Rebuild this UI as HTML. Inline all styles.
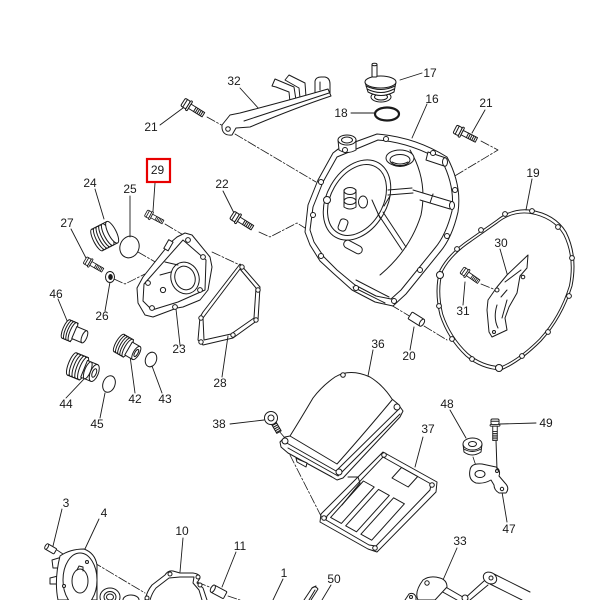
<!DOCTYPE html>
<html><head><meta charset="utf-8">
<style>
html,body{margin:0;padding:0;background:#fff;}
svg{display:block}
text{font-family:"Liberation Sans",sans-serif;font-size:12px;fill:#1a1a1a;text-anchor:middle}
</style></head><body>
<svg width="600" height="600" viewBox="0 0 600 600" xmlns="http://www.w3.org/2000/svg">
<defs>
<g id="bolt">
  <rect x="0" y="-4.5" width="6" height="9" rx="1.5"/>
  <line x1="2.5" y1="-4.5" x2="2.5" y2="4.5"/>
  <rect x="6" y="-5.5" width="2" height="11" rx="1"/>
  <rect x="8" y="-2.5" width="16" height="5"/>
  <path d="M14,-2.5v5M16,-2.5v5M18,-2.5v5M20,-2.5v5M22,-2.5v5" fill="none"/>
</g>
</defs>
<rect width="600" height="600" fill="#fff"/>
<g fill="#fff" stroke="#1a1a1a" stroke-width="1" stroke-linejoin="round" stroke-linecap="round">

<!-- dashed connector lines -->
<g fill="none" stroke-width="0.8" stroke-dasharray="9,2,2,2">
<path d="M207,117 L225,127"/>
<path d="M235,134 L316,182"/>
<path d="M259,232 L270,237 L297,223 L305,228"/>
<path d="M481,141 L498,150 L423,195"/>
<path d="M165,224 L185,236"/>
<path d="M138,252 L157,263"/>
<path d="M114,279 L125,284 L145,274"/>
<path d="M212,252 L242,266"/>
<path d="M391,305 L411,317"/>
<path d="M424,326 L447,340"/>
<path d="M481,284 L496,290"/>
<path d="M290,455 L322,518"/>
<path d="M279,431 L285,438"/>
<path d="M473,457 L477,469"/>
<path d="M57,550 L66,556"/>
<path d="M93,562 L145,593"/>
<path d="M197,582 L212,588"/>
<path d="M228,596 L240,600"/>
</g>

<!-- leader lines -->
<g fill="none" stroke-width="0.9">
<path d="M240,88 L260,110"/>
<path d="M400,80 L422,73"/>
<path d="M427,104 L412,138"/>
<path d="M351,113 L374,113"/>
<path d="M160,125 L183,108"/>
<path d="M485,110 L472,133"/>
<path d="M223,191 L234,213"/>
<path d="M155,183 L153,211"/>
<path d="M95,189 L104,219"/>
<path d="M130,196 L130,237"/>
<path d="M71,229 L86,258"/>
<path d="M105,311 L110,282"/>
<path d="M180,345 L176,309"/>
<path d="M222,377 L228,336"/>
<path d="M58,299 L68,323"/>
<path d="M66,398 L84,379"/>
<path d="M100,418 L105,393"/>
<path d="M135,393 L130,356"/>
<path d="M162,393 L152,366"/>
<path d="M230,424 L264,420"/>
<path d="M373,350 L368,376"/>
<path d="M410,350 L414,327"/>
<path d="M423,437 L415,467"/>
<path d="M450,410 L466,438"/>
<path d="M536,423 L500,424"/>
<path d="M507,522 L502,492"/>
<path d="M457,548 L443,580"/>
<path d="M532,179 L526,210"/>
<path d="M500,249 L508,277"/>
<path d="M463,305 L465,282"/>
<path d="M62,509 L53,546"/>
<path d="M99,519 L84,551"/>
<path d="M183,538 L180,572"/>
<path d="M236,552 L222,587"/>
<path d="M283,579 L273,600"/>
<path d="M331,585 L322,600"/>
</g>

<!-- 32 bracket -->
<path d="M272,86 L275,79 L294,87 L296,100 L290,102 L289,92 L276,87 Z"/>
<path d="M285,80 L289,75 L305,83 L306,97 L300,98 L299,88 Z"/>
<path d="M315,93 L315,81 Q316,77 321,77 L325,77 Q330,78 330,84 L330,93 Z"/>
<path d="M320,90 L320,82" fill="none"/>
<path d="M222,125 L230,115 L240,113 Q290,100 328,89 L331,96 Q295,108 250,127 L236,128 L232,135 Q223,136 222,128 Z"/>
<path d="M244,121 Q290,106 329,93" fill="none"/>
<circle cx="228" cy="129" r="2.3"/>

<!-- 21 left, 21 right bolts -->
<use href="#bolt" transform="translate(183,102) rotate(32)"/>
<use href="#bolt" transform="translate(455,129) rotate(27)"/>

<!-- 17 cap -->
<ellipse cx="381" cy="97" rx="10" ry="5"/>
<ellipse cx="381" cy="97" rx="6.5" ry="3"/>
<path d="M365,82 L368,92 Q381,99 394,92 L396,82 Z"/>
<path d="M366,86 Q381,93 395,86 M367,89 Q381,96 394,89" fill="none"/>
<ellipse cx="380.5" cy="82" rx="15.5" ry="6"/>
<rect x="372" y="64" width="5" height="13" rx="1"/>
<ellipse cx="374.5" cy="64.5" rx="2.5" ry="1.2"/>

<!-- 18 o-ring -->
<ellipse cx="387" cy="114" rx="12" ry="6.5" fill="none" stroke-width="2.2"/>

<!-- 16 cover -->
<path d="M318,180 L333,153 Q342,145 355,142 L377,134 Q415,137 447,157 Q462,185 458,212 Q452,238 440,252 L406,294 L393,306 L375,302 L352,290 L333,273 L320,261 L310,245 L305,232 L308,205 Z"/>
<path d="M323,182 L337,157 L378,140 Q412,143 442,161 Q455,186 452,211 Q446,235 435,248 L401,290 L391,299 L376,296 L355,285 L337,270 L324,257 L314,242 L310,230 L313,207 Z" fill="none"/>
<path d="M410,150 Q428,180 421,215 Q410,250 380,275" fill="none"/>
<ellipse cx="357" cy="200" rx="30" ry="43" transform="rotate(30 357 200)" fill="none"/>
<ellipse cx="357" cy="200" rx="26" ry="38" transform="rotate(30 357 200)" fill="none"/>
<path d="M338,140 L339,150 Q347,155 356,150 L356,140"/>
<ellipse cx="347" cy="140" rx="9" ry="5"/>
<ellipse cx="347" cy="140" rx="5.5" ry="3"/>
<ellipse cx="400" cy="158" rx="14" ry="8"/>
<ellipse cx="400" cy="160" rx="10" ry="5.5"/>
<path d="M392,162 Q400,166 408,162 M393,165 Q400,168 407,165" fill="none"/>
<path d="M428,152 L446,158 L444,166 L426,160 Z"/>
<ellipse cx="445" cy="162" rx="2.5" ry="4.2"/>
<path d="M413,190 L453,202 L450,209 L420,200" />
<ellipse cx="452" cy="205.5" rx="2.5" ry="4"/>
<path d="M433,194 L430,203" fill="none"/>
<path d="M378,214 L402,250 M383,212 L406,247" fill="none"/>
<path d="M388,190 L412,188 M388,195 L413,193" fill="none"/>
<rect x="-10" y="-4" width="20" height="8" rx="4" transform="translate(353,247) rotate(28)"/>
<path d="M344,190 L344,207 Q350,211 356,207 L356,190"/>
<ellipse cx="350" cy="201" rx="6" ry="3.5"/>
<ellipse cx="350" cy="191" rx="6" ry="3.5"/>
<ellipse cx="363" cy="202" rx="4.5" ry="6"/>
<circle cx="327" cy="200" r="3.5"/>
<rect x="-4" y="-6" width="8" height="12" rx="3" transform="translate(343,225) rotate(20)"/>
<path d="M380,218 L372,200 M384,206 L390,196" fill="none"/>
<path d="M356,280 L389,297 M353,287 L385,303" fill="none"/>
<circle cx="345" cy="150" r="2.5"/><circle cx="386" cy="139" r="2.5"/><circle cx="433" cy="153" r="2.5"/>
<circle cx="455" cy="190" r="2.5"/><circle cx="447" cy="236" r="2.5"/><circle cx="420" cy="270" r="2.5"/>
<circle cx="394" cy="301" r="2.5"/><circle cx="356" cy="288" r="2.5"/><circle cx="321" cy="256" r="2.5"/>
<circle cx="313" cy="215" r="2.5"/><circle cx="321" cy="182" r="2.5"/>

<!-- 22 bolt -->
<use href="#bolt" transform="translate(232,215) rotate(32)"/>

<!-- 19 gasket -->
<path d="M497,220 Q512,208 530,210 Q555,214 566,232 Q578,256 572,286 Q562,318 541,341 Q520,362 501,370 Q481,369 466,356 Q448,339 440,315 Q434,290 440,270 Q449,253 470,239 Z" fill="none"/>
<path d="M497,220 Q512,208 530,210 Q555,214 566,232 Q578,256 572,286 Q562,318 541,341 Q520,362 501,370 Q481,369 466,356 Q448,339 440,315 Q434,290 440,270 Q449,253 470,239 Z" transform="translate(506,290) scale(0.96) translate(-506,-290)" fill="none"/>
<g>
<circle cx="505" cy="214" r="2.4"/><circle cx="532" cy="211" r="2.4"/><circle cx="558" cy="227" r="2.4"/>
<circle cx="572" cy="258" r="2.4"/><circle cx="569" cy="296" r="2.4"/><circle cx="548" cy="332" r="2.4"/>
<circle cx="522" cy="356" r="2.4"/><circle cx="499" cy="368" r="3.5"/><circle cx="472" cy="359" r="2.4"/>
<circle cx="452" cy="339" r="2.4"/><circle cx="439" cy="306" r="2.4"/><circle cx="440" cy="275" r="3.5"/>
<circle cx="457" cy="249" r="2.4"/><circle cx="481" cy="230" r="2.4"/>
</g>

<!-- 30 plate -->
<path d="M528,255 L527,268 L520,276 L517,293 L509,307 L505,318 L507,330 L492,337 L489,332 L487,310 L488,300 L497,287 L507,275 Z"/>
<circle cx="497" cy="290" r="2"/>
<circle cx="523" cy="277" r="1.8"/>
<path d="M505,282 L521,270 M497,305 Q493,318 498,328 M501,297 L507,290 M507,300 L502,318" fill="none"/>
<circle cx="494" cy="332" r="1.5"/>

<!-- 31 bolt -->
<use href="#bolt" transform="translate(462,270) rotate(35) scale(0.85)"/>

<!-- 20 dowel -->
<g transform="translate(416,319) rotate(32)"><rect x="-7" y="-4" width="14" height="8" rx="1"/><ellipse cx="7" cy="0" rx="2" ry="4"/></g>

<!-- 23 cover plate -->
<path d="M177,237 L185,233 L192,235 L210,257 L212,267 L208,290 L200,300 L183,307 L177,308 L153,317 L145,315 L138,303 L137,288 L143,277 L170,243 Z"/>
<path d="M183,240 L206,260 L205,290 L178,302 L152,310 L143,301 L144,284 Z" fill="none"/>
<rect x="166" y="240" width="5" height="10" transform="rotate(30 168 245)"/>
<ellipse cx="185" cy="278" rx="14" ry="16" transform="rotate(-20 185 278)"/>
<ellipse cx="185" cy="278" rx="10" ry="12" transform="rotate(-20 185 278)"/>
<path d="M160,275 L171,272 M165,262 L178,265" fill="none"/>
<circle cx="188" cy="240" r="2.4"/><circle cx="203" cy="257" r="2.4"/><circle cx="200" cy="290" r="2.4"/>
<circle cx="175" cy="307" r="2.4"/><circle cx="152" cy="308" r="2.4"/><circle cx="148" cy="283" r="2.4"/>
<circle cx="163" cy="290" r="2.6"/>

<!-- 28 gasket -->
<path d="M240,264 L260,287 L258,320 L233,338 L203,345 L198,340 L200,317 L203,312 Z" fill="none"/>
<path d="M240,269 L256,288 L254,318 L231,334 L204,340 L203,318 L206,314 Z" fill="none"/>
<circle cx="242" cy="267" r="2.2"/><circle cx="258" cy="290" r="2.2"/><circle cx="256" cy="320" r="2.2"/>
<circle cx="233" cy="335" r="2.2"/><circle cx="201" cy="342" r="2.2"/><circle cx="201" cy="318" r="2.2"/>

<!-- 29 bolt -->
<use href="#bolt" transform="translate(146,213) rotate(28) scale(0.8)"/>
<rect x="147" y="159" width="23" height="23" fill="none" stroke="#e80000" stroke-width="2.2" stroke-linejoin="miter"/>

<!-- 24 plug -->
<g transform="translate(97,240) rotate(-27)">
<rect x="0" y="-12" width="17" height="24"/>
<ellipse cx="0" cy="0" rx="3.5" ry="12"/><ellipse cx="3" cy="0" rx="3.5" ry="12"/><ellipse cx="6" cy="0" rx="3.5" ry="12"/>
<ellipse cx="9" cy="0" rx="3.5" ry="12"/><ellipse cx="12" cy="0" rx="3.5" ry="12"/><ellipse cx="17" cy="0" rx="4" ry="12"/>
</g>
<!-- 25 o-ring -->
<ellipse cx="129.5" cy="247" rx="9.5" ry="11" transform="rotate(20 129.5 247)" fill="none"/>
<!-- 27 bolt -->
<use href="#bolt" transform="translate(85,260) rotate(30) scale(0.85)"/>
<!-- 26 washer -->
<ellipse cx="110" cy="277" rx="4.5" ry="5.5"/>
<ellipse cx="110.5" cy="277" rx="1.8" ry="2.5" fill="#1a1a1a"/>

<!-- 46 -->
<g transform="translate(66,329) rotate(23)">
<rect x="0" y="-10" width="9" height="20"/>
<ellipse cx="0" cy="0" rx="3" ry="10"/><ellipse cx="2.5" cy="0" rx="3" ry="10"/><ellipse cx="5" cy="0" rx="3" ry="10"/><ellipse cx="7.5" cy="0" rx="3" ry="10"/>
<rect x="9" y="-6.5" width="11" height="13"/>
<ellipse cx="20" cy="0" rx="2.5" ry="6.5"/>
</g>
<!-- 44 -->
<g transform="translate(72,364) rotate(22)">
<rect x="0" y="-12" width="13" height="24"/>
<ellipse cx="0" cy="0" rx="3.5" ry="12"/><ellipse cx="3" cy="0" rx="3.5" ry="12"/><ellipse cx="6" cy="0" rx="3.5" ry="12"/><ellipse cx="9" cy="0" rx="3.5" ry="12"/><ellipse cx="12" cy="0" rx="3.5" ry="12"/>
<rect x="13" y="-9" width="11" height="18"/>
<ellipse cx="17" cy="0" rx="3" ry="9"/>
<ellipse cx="24" cy="0" rx="4" ry="9"/>
<ellipse cx="24" cy="0" rx="2" ry="4.5"/>
</g>
<!-- 45 o-ring -->
<ellipse cx="109" cy="384" rx="6" ry="8.5" transform="rotate(20 109 384)" fill="none"/>
<!-- 42 -->
<g transform="translate(119,343) rotate(30)">
<rect x="0" y="-10" width="11" height="20"/>
<ellipse cx="0" cy="0" rx="3" ry="10"/><ellipse cx="2.5" cy="0" rx="3" ry="10"/><ellipse cx="5" cy="0" rx="3" ry="10"/><ellipse cx="7.5" cy="0" rx="3" ry="10"/><ellipse cx="10" cy="0" rx="3" ry="10"/>
<rect x="11" y="-7.5" width="9" height="15"/>
<ellipse cx="20" cy="0" rx="3" ry="7.5"/>
<ellipse cx="20" cy="0" rx="1.5" ry="4"/>
</g>
<!-- 43 o-ring -->
<ellipse cx="151" cy="359.5" rx="5.5" ry="7.5" transform="rotate(20 151 359.5)" fill="none"/>

<!-- 36 cover -->
<path d="M335,377 Q350,368 370,377 Q383,385 392,399 L398,404 L403,411 L400,417 L343,478 L337,480 L332,477 L288,453 L281,447 L280,442 L285,437 L290,436 Q300,420 313,398 Q322,386 335,377 Z"/>
<path d="M285,442 L336,471 L399,409" fill="none"/>
<path d="M290,436 L337,464 Q362,436 392,400" fill="none"/>
<path d="M288,448 L338,476 L400,414" fill="none"/>
<path d="M296,458 L300,460 L307,463 L306,467 L297,462 Z"/>
<circle cx="285" cy="441" r="3"/><circle cx="339" cy="472" r="3"/><circle cx="397" cy="407" r="3"/><circle cx="343" cy="375" r="2.3"/>

<!-- 38 bolt -->
<g transform="translate(272,420) rotate(60)"><rect x="0" y="-2.5" width="14" height="5"/><path d="M5,-2.5v5M7,-2.5v5M9,-2.5v5M11,-2.5v5M13,-2.5v5" fill="none"/></g>
<circle cx="271" cy="418" r="6.5"/>
<circle cx="271" cy="418" r="3"/>

<!-- 37 gasket -->
<path d="M383,452 L437,482 L436,492 L377,552 L368,549 L320,522 L321,514 Z" fill="none"/>
<path d="M383,457 L431,484 L430,490 L376,546 L369,545 L326,520 L327,516 Z" fill="none"/>
<path d="M401.5,467.5 L417.7,476.5 L408.2,487 L392,478 Z" fill="none"/>
<path d="M363.4,481 L374.2,487 L341.4,523.4 L330.6,517.4 Z" fill="none"/>
<path d="M378.5,489.4 L389.3,495.4 L356.5,531.8 L345.7,525.8 Z" fill="none"/>
<path d="M393.6,497.8 L404.4,503.8 L371.7,540.2 L360.9,534.2 Z" fill="none"/>
<path d="M348,477 L358,477 L360,483 L342,505" fill="none"/>
<circle cx="384" cy="455" r="2.3"/><circle cx="432" cy="485" r="2.3"/><circle cx="375" cy="548" r="2.3"/><circle cx="324" cy="518" r="2.3"/>

<!-- 48 / 47 / 49 -->
<path d="M470,470 Q471,463 482,464 L496,467 Q501,470 499,476 L505,483 Q510,488 506,493 L499,493 Q494,490 494,485 L491,480 Q484,484 476,483 Q468,480 470,470 Z"/>
<ellipse cx="480" cy="474" rx="5" ry="3.5"/>
<circle cx="497" cy="471" r="1.5"/>
<circle cx="502" cy="489" r="1.7"/>
<path d="M463,444 L464,452 Q472,458 481,452 L482,444"/>
<ellipse cx="472.5" cy="444" rx="9.5" ry="6"/>
<ellipse cx="472.5" cy="444" rx="4" ry="2.5"/>
<path d="M464,449 Q472,454 481,449" fill="none"/>
<path d="M496,440 L497,470" fill="none"/>
<use href="#bolt" transform="translate(495,419) rotate(90) scale(0.9)"/>

<!-- 33 bracket -->
<path d="M405,600 L409,594 Q414,592 416,597 L416,600"/>
<circle cx="411" cy="597" r="1.5"/>
<path d="M432,586 L457,600 M437,582 L468,600" fill="none"/>
<path d="M423,580 Q430,575 440,578 Q447,580 447,587 L435,600 L418,600 Q414,592 423,580 Z"/>
<circle cx="427" cy="583" r="2.2"/>
<path d="M463,600 L484,581 M470,600 L488,585" fill="none"/>
<path d="M494,574 L530,592 M490,584 L522,600" fill="none"/>
<ellipse cx="490" cy="578" rx="7" ry="5.5" transform="rotate(30 490 578)"/>
<circle cx="491" cy="578" r="2"/>
<circle cx="465" cy="598" r="3"/>

<!-- 3 pin -->
<g transform="translate(51,549) rotate(30)"><rect x="-5" y="-3" width="10" height="6" rx="1"/><ellipse cx="-5" cy="0" rx="1.5" ry="3"/></g>
<!-- 4 disc -->
<path d="M52,560 L62,557 L63,568 L53,568 Z"/>
<path d="M50,578 L58,576 L58,584 L50,584 Z"/>
<path d="M60,556 Q70,549 84,549 Q95,553 97,565 L97,600 L58,600 Q54,580 60,556 Z"/>
<ellipse cx="80" cy="580" rx="17" ry="27"/>
<ellipse cx="80" cy="581" rx="8" ry="12"/>
<path d="M77,570 L79,566 L83,567 L83,571" fill="none"/>
<circle cx="87" cy="562" r="1.5"/>
<circle cx="64" cy="586" r="1.5"/>
<!-- bearings -->
<ellipse cx="110" cy="597" rx="10" ry="9"/>
<ellipse cx="110" cy="597" rx="6" ry="5.5"/>
<ellipse cx="110" cy="597" rx="3.5" ry="3"/>
<ellipse cx="131" cy="600" rx="8" ry="5"/>
<!-- 10 gasket -->
<path d="M145,600 Q147,591 152,585 L165,575 Q168,570 173,571 L180,573 L193,573 Q200,574 200,578 L197,583 L203,588 L207,600" fill="none"/>
<path d="M150,600 Q152,593 156,588 L169,578 L180,577 L194,577 L193,583 L199,590 L202,600" fill="none"/>
<circle cx="170" cy="574" r="2"/><circle cx="198" cy="577" r="2"/><circle cx="200" cy="585" r="2"/><circle cx="147" cy="598" r="2"/>
<!-- 11 dowel -->
<g transform="translate(219,592) rotate(28)"><rect x="-7" y="-4" width="14" height="8" rx="1"/><ellipse cx="-7" cy="0" rx="2" ry="4"/></g>
<!-- 50 -->
<path d="M304,600 L312,588 Q315,585 318,589 L311,600" />
<path d="M309,600 L315,590 M312,588 L316,586" fill="none"/>
</g>

<!-- labels -->
<g>
<text x="234" y="85">32</text>
<text x="430" y="77">17</text>
<text x="432" y="103">16</text>
<text x="341" y="117">18</text>
<text x="151" y="131">21</text>
<text x="486" y="107">21</text>
<text x="157.5" y="174">29</text>
<text x="90" y="187">24</text>
<text x="130" y="193">25</text>
<text x="222" y="188">22</text>
<text x="533" y="177">19</text>
<text x="67" y="227">27</text>
<text x="501" y="247">30</text>
<text x="56" y="298">46</text>
<text x="102" y="320">26</text>
<text x="463" y="315">31</text>
<text x="179" y="353">23</text>
<text x="378" y="348">36</text>
<text x="409" y="360">20</text>
<text x="220" y="387">28</text>
<text x="66" y="408">44</text>
<text x="135" y="403">42</text>
<text x="165" y="403">43</text>
<text x="97" y="428">45</text>
<text x="219" y="428">38</text>
<text x="447" y="408">48</text>
<text x="546" y="427">49</text>
<text x="428" y="433">37</text>
<text x="509" y="533">47</text>
<text x="66" y="507">3</text>
<text x="104" y="517">4</text>
<text x="182" y="535">10</text>
<text x="240" y="550">11</text>
<text x="460" y="545">33</text>
<text x="284" y="577">1</text>
<text x="334" y="583">50</text>
</g>
</svg>
</body></html>
